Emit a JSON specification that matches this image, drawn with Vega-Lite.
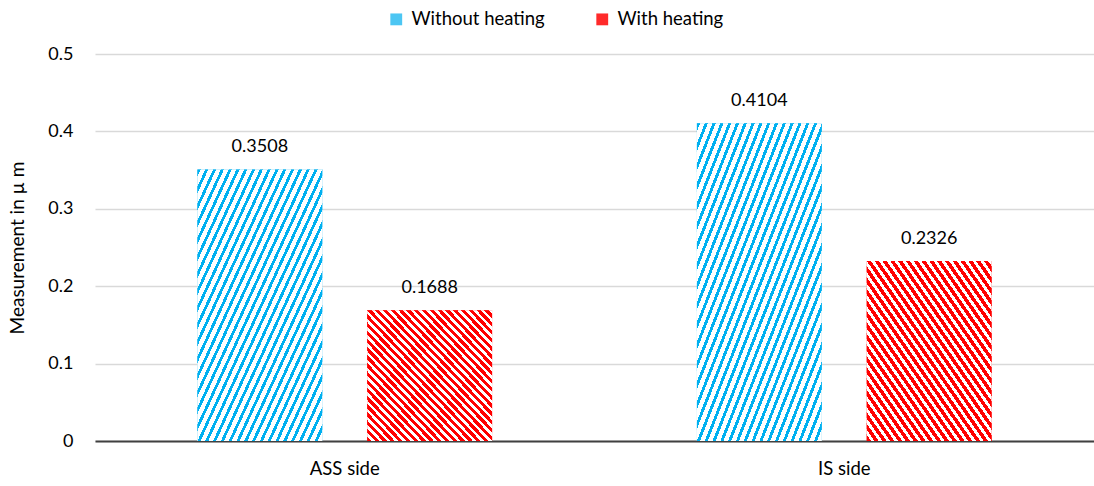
{
  "$schema": "https://vega.github.io/schema/vega-lite/v6.json",
  "width": 999,
  "height": 387,
  "autosize": "none",
  "padding": {"left": 95, "top": 54, "right": 0, "bottom": 45},
  "background": "white",
  "config": {
    "font": "Lato",
    "view": {"stroke": null},
    "axis": {"labelFont": "Lato", "titleFont": "Lato", "labelColor": "#000000", "titleColor": "#000000"}
  },
  "data": {
    "values": [
      {"side": "ASS side", "series": "Without heating", "value": 0.3508},
      {"side": "ASS side", "series": "With heating", "value": 0.1688},
      {"side": "IS side", "series": "Without heating", "value": 0.4104},
      {"side": "IS side", "series": "With heating", "value": 0.2326}
    ]
  },
  "encoding": {
    "x": {
      "field": "side", "type": "nominal", "sort": ["ASS side", "IS side"],
      "scale": {"paddingInner": 0, "paddingOuter": 0},
      "axis": {"title": null, "labelAngle": 0, "labelFontSize": 18.5, "labelPadding": 18, "ticks": false, "domainColor": "#404040", "domainWidth": 2, "grid": false}
    },
    "xOffset": {
      "field": "series", "type": "nominal",
      "scale": {"domain": ["Without heating", "With heating"], "paddingInner": 0.2647, "paddingOuter": 0.603}
    },
    "y": {
      "field": "value", "type": "quantitative",
      "scale": {"domain": [0, 0.5], "nice": false, "zero": true},
      "axis": {
        "title": "Measurement in µ m", "titleFontSize": 19, "titleFontWeight": "normal", "titlePadding": 20,
        "values": [0, 0.1, 0.2, 0.3, 0.4, 0.5], "format": ".1~f",
        "labelFontSize": 18, "labelPadding": 22, "ticks": false, "domain": false,
        "grid": true, "gridColor": "#d9d9d9", "gridWidth": 1.3
      }
    }
  },
  "layer": [
    {
      "mark": {"type": "bar", "strokeWidth": 0},
      "encoding": {
        "fill": {
          "field": "series", "type": "nominal",
          "scale": {"domain": ["Without heating", "With heating"], "range": ["#4cc6f3", "#ff2a2a"]},
          "legend": {
            "title": null, "orient": "none", "direction": "horizontal",
            "legendX": 292, "legendY": -44,
            "symbolType": "square", "symbolSize": 140, "symbolStrokeWidth": 0,
            "labelFont": "Lato", "labelFontSize": 18.5, "labelColor": "#000000",
            "labelOffset": 6, "columnPadding": 48
          }
        }
      }
    },
    {
      "transform": [{"filter": "datum.series === 'Without heating'"}],
      "mark": {"type": "bar", "strokeWidth": 0, "fill":
        {"gradient": "linear", "x1": 0, "y1": 0, "x2": 1, "y2": 1, "stops": [
          {"offset": 0, "color": "#00b0f0"}, {"offset": 0.0125, "color": "#00b0f0"}, {"offset": 0.0125, "color": "#ffffff"}, {"offset": 0.03125, "color": "#ffffff"},
          {"offset": 0.03125, "color": "#00b0f0"}, {"offset": 0.04375, "color": "#00b0f0"}, {"offset": 0.04375, "color": "#ffffff"}, {"offset": 0.0625, "color": "#ffffff"},
          {"offset": 0.0625, "color": "#00b0f0"}, {"offset": 0.075, "color": "#00b0f0"}, {"offset": 0.075, "color": "#ffffff"}, {"offset": 0.09375, "color": "#ffffff"},
          {"offset": 0.09375, "color": "#00b0f0"}, {"offset": 0.10625, "color": "#00b0f0"}, {"offset": 0.10625, "color": "#ffffff"}, {"offset": 0.125, "color": "#ffffff"},
          {"offset": 0.125, "color": "#00b0f0"}, {"offset": 0.1375, "color": "#00b0f0"}, {"offset": 0.1375, "color": "#ffffff"}, {"offset": 0.15625, "color": "#ffffff"},
          {"offset": 0.15625, "color": "#00b0f0"}, {"offset": 0.16875, "color": "#00b0f0"}, {"offset": 0.16875, "color": "#ffffff"}, {"offset": 0.1875, "color": "#ffffff"},
          {"offset": 0.1875, "color": "#00b0f0"}, {"offset": 0.2, "color": "#00b0f0"}, {"offset": 0.2, "color": "#ffffff"}, {"offset": 0.21875, "color": "#ffffff"},
          {"offset": 0.21875, "color": "#00b0f0"}, {"offset": 0.23125, "color": "#00b0f0"}, {"offset": 0.23125, "color": "#ffffff"}, {"offset": 0.25, "color": "#ffffff"},
          {"offset": 0.25, "color": "#00b0f0"}, {"offset": 0.2625, "color": "#00b0f0"}, {"offset": 0.2625, "color": "#ffffff"}, {"offset": 0.28125, "color": "#ffffff"},
          {"offset": 0.28125, "color": "#00b0f0"}, {"offset": 0.29375, "color": "#00b0f0"}, {"offset": 0.29375, "color": "#ffffff"}, {"offset": 0.3125, "color": "#ffffff"},
          {"offset": 0.3125, "color": "#00b0f0"}, {"offset": 0.325, "color": "#00b0f0"}, {"offset": 0.325, "color": "#ffffff"}, {"offset": 0.34375, "color": "#ffffff"},
          {"offset": 0.34375, "color": "#00b0f0"}, {"offset": 0.35625, "color": "#00b0f0"}, {"offset": 0.35625, "color": "#ffffff"}, {"offset": 0.375, "color": "#ffffff"},
          {"offset": 0.375, "color": "#00b0f0"}, {"offset": 0.3875, "color": "#00b0f0"}, {"offset": 0.3875, "color": "#ffffff"}, {"offset": 0.40625, "color": "#ffffff"},
          {"offset": 0.40625, "color": "#00b0f0"}, {"offset": 0.41875, "color": "#00b0f0"}, {"offset": 0.41875, "color": "#ffffff"}, {"offset": 0.4375, "color": "#ffffff"},
          {"offset": 0.4375, "color": "#00b0f0"}, {"offset": 0.45, "color": "#00b0f0"}, {"offset": 0.45, "color": "#ffffff"}, {"offset": 0.46875, "color": "#ffffff"},
          {"offset": 0.46875, "color": "#00b0f0"}, {"offset": 0.48125, "color": "#00b0f0"}, {"offset": 0.48125, "color": "#ffffff"}, {"offset": 0.5, "color": "#ffffff"},
          {"offset": 0.5, "color": "#00b0f0"}, {"offset": 0.5125, "color": "#00b0f0"}, {"offset": 0.5125, "color": "#ffffff"}, {"offset": 0.53125, "color": "#ffffff"},
          {"offset": 0.53125, "color": "#00b0f0"}, {"offset": 0.54375, "color": "#00b0f0"}, {"offset": 0.54375, "color": "#ffffff"}, {"offset": 0.5625, "color": "#ffffff"},
          {"offset": 0.5625, "color": "#00b0f0"}, {"offset": 0.575, "color": "#00b0f0"}, {"offset": 0.575, "color": "#ffffff"}, {"offset": 0.59375, "color": "#ffffff"},
          {"offset": 0.59375, "color": "#00b0f0"}, {"offset": 0.60625, "color": "#00b0f0"}, {"offset": 0.60625, "color": "#ffffff"}, {"offset": 0.625, "color": "#ffffff"},
          {"offset": 0.625, "color": "#00b0f0"}, {"offset": 0.6375, "color": "#00b0f0"}, {"offset": 0.6375, "color": "#ffffff"}, {"offset": 0.65625, "color": "#ffffff"},
          {"offset": 0.65625, "color": "#00b0f0"}, {"offset": 0.66875, "color": "#00b0f0"}, {"offset": 0.66875, "color": "#ffffff"}, {"offset": 0.6875, "color": "#ffffff"},
          {"offset": 0.6875, "color": "#00b0f0"}, {"offset": 0.7, "color": "#00b0f0"}, {"offset": 0.7, "color": "#ffffff"}, {"offset": 0.71875, "color": "#ffffff"},
          {"offset": 0.71875, "color": "#00b0f0"}, {"offset": 0.73125, "color": "#00b0f0"}, {"offset": 0.73125, "color": "#ffffff"}, {"offset": 0.75, "color": "#ffffff"},
          {"offset": 0.75, "color": "#00b0f0"}, {"offset": 0.7625, "color": "#00b0f0"}, {"offset": 0.7625, "color": "#ffffff"}, {"offset": 0.78125, "color": "#ffffff"},
          {"offset": 0.78125, "color": "#00b0f0"}, {"offset": 0.79375, "color": "#00b0f0"}, {"offset": 0.79375, "color": "#ffffff"}, {"offset": 0.8125, "color": "#ffffff"},
          {"offset": 0.8125, "color": "#00b0f0"}, {"offset": 0.825, "color": "#00b0f0"}, {"offset": 0.825, "color": "#ffffff"}, {"offset": 0.84375, "color": "#ffffff"},
          {"offset": 0.84375, "color": "#00b0f0"}, {"offset": 0.85625, "color": "#00b0f0"}, {"offset": 0.85625, "color": "#ffffff"}, {"offset": 0.875, "color": "#ffffff"},
          {"offset": 0.875, "color": "#00b0f0"}, {"offset": 0.8875, "color": "#00b0f0"}, {"offset": 0.8875, "color": "#ffffff"}, {"offset": 0.90625, "color": "#ffffff"},
          {"offset": 0.90625, "color": "#00b0f0"}, {"offset": 0.91875, "color": "#00b0f0"}, {"offset": 0.91875, "color": "#ffffff"}, {"offset": 0.9375, "color": "#ffffff"},
          {"offset": 0.9375, "color": "#00b0f0"}, {"offset": 0.95, "color": "#00b0f0"}, {"offset": 0.95, "color": "#ffffff"}, {"offset": 0.96875, "color": "#ffffff"},
          {"offset": 0.96875, "color": "#00b0f0"}, {"offset": 0.98125, "color": "#00b0f0"}, {"offset": 0.98125, "color": "#ffffff"}, {"offset": 1, "color": "#ffffff"}
        ]}
      }
    },
    {
      "transform": [{"filter": "datum.series === 'With heating'"}],
      "mark": {"type": "bar", "strokeWidth": 0, "fill":
        {"gradient": "linear", "x1": 0, "y1": 1, "x2": 1, "y2": 0, "stops": [
          {"offset": 0, "color": "#ff0000"}, {"offset": 0.0172, "color": "#ff0000"}, {"offset": 0.0172, "color": "#ffffff"}, {"offset": 0.03125, "color": "#ffffff"},
          {"offset": 0.03125, "color": "#ff0000"}, {"offset": 0.0484, "color": "#ff0000"}, {"offset": 0.0484, "color": "#ffffff"}, {"offset": 0.0625, "color": "#ffffff"},
          {"offset": 0.0625, "color": "#ff0000"}, {"offset": 0.0797, "color": "#ff0000"}, {"offset": 0.0797, "color": "#ffffff"}, {"offset": 0.09375, "color": "#ffffff"},
          {"offset": 0.09375, "color": "#ff0000"}, {"offset": 0.1109, "color": "#ff0000"}, {"offset": 0.1109, "color": "#ffffff"}, {"offset": 0.125, "color": "#ffffff"},
          {"offset": 0.125, "color": "#ff0000"}, {"offset": 0.1422, "color": "#ff0000"}, {"offset": 0.1422, "color": "#ffffff"}, {"offset": 0.15625, "color": "#ffffff"},
          {"offset": 0.15625, "color": "#ff0000"}, {"offset": 0.1734, "color": "#ff0000"}, {"offset": 0.1734, "color": "#ffffff"}, {"offset": 0.1875, "color": "#ffffff"},
          {"offset": 0.1875, "color": "#ff0000"}, {"offset": 0.2047, "color": "#ff0000"}, {"offset": 0.2047, "color": "#ffffff"}, {"offset": 0.21875, "color": "#ffffff"},
          {"offset": 0.21875, "color": "#ff0000"}, {"offset": 0.2359, "color": "#ff0000"}, {"offset": 0.2359, "color": "#ffffff"}, {"offset": 0.25, "color": "#ffffff"},
          {"offset": 0.25, "color": "#ff0000"}, {"offset": 0.2672, "color": "#ff0000"}, {"offset": 0.2672, "color": "#ffffff"}, {"offset": 0.28125, "color": "#ffffff"},
          {"offset": 0.28125, "color": "#ff0000"}, {"offset": 0.2984, "color": "#ff0000"}, {"offset": 0.2984, "color": "#ffffff"}, {"offset": 0.3125, "color": "#ffffff"},
          {"offset": 0.3125, "color": "#ff0000"}, {"offset": 0.3297, "color": "#ff0000"}, {"offset": 0.3297, "color": "#ffffff"}, {"offset": 0.34375, "color": "#ffffff"},
          {"offset": 0.34375, "color": "#ff0000"}, {"offset": 0.3609, "color": "#ff0000"}, {"offset": 0.3609, "color": "#ffffff"}, {"offset": 0.375, "color": "#ffffff"},
          {"offset": 0.375, "color": "#ff0000"}, {"offset": 0.3922, "color": "#ff0000"}, {"offset": 0.3922, "color": "#ffffff"}, {"offset": 0.40625, "color": "#ffffff"},
          {"offset": 0.40625, "color": "#ff0000"}, {"offset": 0.4234, "color": "#ff0000"}, {"offset": 0.4234, "color": "#ffffff"}, {"offset": 0.4375, "color": "#ffffff"},
          {"offset": 0.4375, "color": "#ff0000"}, {"offset": 0.4547, "color": "#ff0000"}, {"offset": 0.4547, "color": "#ffffff"}, {"offset": 0.46875, "color": "#ffffff"},
          {"offset": 0.46875, "color": "#ff0000"}, {"offset": 0.4859, "color": "#ff0000"}, {"offset": 0.4859, "color": "#ffffff"}, {"offset": 0.5, "color": "#ffffff"},
          {"offset": 0.5, "color": "#ff0000"}, {"offset": 0.5172, "color": "#ff0000"}, {"offset": 0.5172, "color": "#ffffff"}, {"offset": 0.53125, "color": "#ffffff"},
          {"offset": 0.53125, "color": "#ff0000"}, {"offset": 0.5484, "color": "#ff0000"}, {"offset": 0.5484, "color": "#ffffff"}, {"offset": 0.5625, "color": "#ffffff"},
          {"offset": 0.5625, "color": "#ff0000"}, {"offset": 0.5797, "color": "#ff0000"}, {"offset": 0.5797, "color": "#ffffff"}, {"offset": 0.59375, "color": "#ffffff"},
          {"offset": 0.59375, "color": "#ff0000"}, {"offset": 0.6109, "color": "#ff0000"}, {"offset": 0.6109, "color": "#ffffff"}, {"offset": 0.625, "color": "#ffffff"},
          {"offset": 0.625, "color": "#ff0000"}, {"offset": 0.6422, "color": "#ff0000"}, {"offset": 0.6422, "color": "#ffffff"}, {"offset": 0.65625, "color": "#ffffff"},
          {"offset": 0.65625, "color": "#ff0000"}, {"offset": 0.6734, "color": "#ff0000"}, {"offset": 0.6734, "color": "#ffffff"}, {"offset": 0.6875, "color": "#ffffff"},
          {"offset": 0.6875, "color": "#ff0000"}, {"offset": 0.7047, "color": "#ff0000"}, {"offset": 0.7047, "color": "#ffffff"}, {"offset": 0.71875, "color": "#ffffff"},
          {"offset": 0.71875, "color": "#ff0000"}, {"offset": 0.7359, "color": "#ff0000"}, {"offset": 0.7359, "color": "#ffffff"}, {"offset": 0.75, "color": "#ffffff"},
          {"offset": 0.75, "color": "#ff0000"}, {"offset": 0.7672, "color": "#ff0000"}, {"offset": 0.7672, "color": "#ffffff"}, {"offset": 0.78125, "color": "#ffffff"},
          {"offset": 0.78125, "color": "#ff0000"}, {"offset": 0.7984, "color": "#ff0000"}, {"offset": 0.7984, "color": "#ffffff"}, {"offset": 0.8125, "color": "#ffffff"},
          {"offset": 0.8125, "color": "#ff0000"}, {"offset": 0.8297, "color": "#ff0000"}, {"offset": 0.8297, "color": "#ffffff"}, {"offset": 0.84375, "color": "#ffffff"},
          {"offset": 0.84375, "color": "#ff0000"}, {"offset": 0.8609, "color": "#ff0000"}, {"offset": 0.8609, "color": "#ffffff"}, {"offset": 0.875, "color": "#ffffff"},
          {"offset": 0.875, "color": "#ff0000"}, {"offset": 0.8922, "color": "#ff0000"}, {"offset": 0.8922, "color": "#ffffff"}, {"offset": 0.90625, "color": "#ffffff"},
          {"offset": 0.90625, "color": "#ff0000"}, {"offset": 0.9234, "color": "#ff0000"}, {"offset": 0.9234, "color": "#ffffff"}, {"offset": 0.9375, "color": "#ffffff"},
          {"offset": 0.9375, "color": "#ff0000"}, {"offset": 0.9547, "color": "#ff0000"}, {"offset": 0.9547, "color": "#ffffff"}, {"offset": 0.96875, "color": "#ffffff"},
          {"offset": 0.96875, "color": "#ff0000"}, {"offset": 0.9859, "color": "#ff0000"}, {"offset": 0.9859, "color": "#ffffff"}, {"offset": 1, "color": "#ffffff"}
        ]}
      }
    },
    {
      "mark": {"type": "text", "baseline": "alphabetic", "dy": -17, "fontSize": 18, "font": "Lato", "color": "#000000"},
      "encoding": {
        "text": {"field": "value", "type": "quantitative", "format": ".4f"}
      }
    }
  ]
}
